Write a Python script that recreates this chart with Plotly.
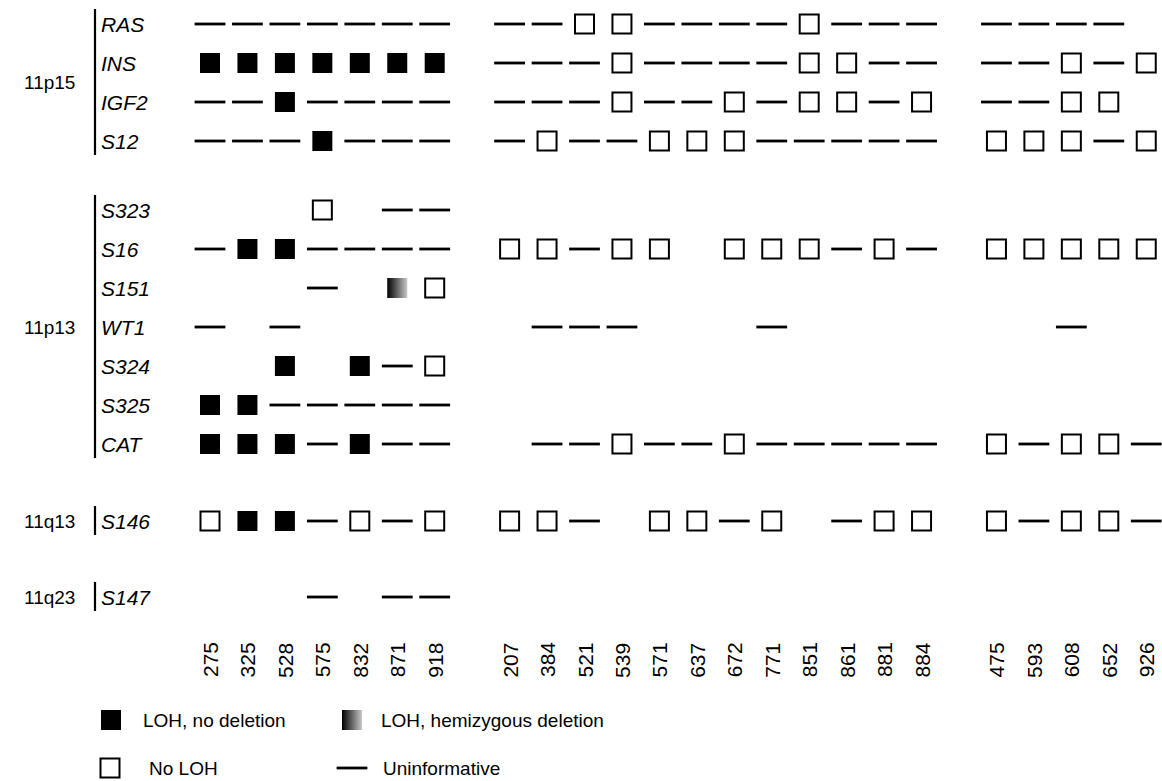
import plotly.graph_objects as go

# ---------------- data ----------------
columns = ["275", "325", "528", "575", "832", "871", "918",
           "207", "384", "521", "539", "571", "637", "672", "771", "851", "861", "881", "884",
           "475", "593", "608", "652", "926"]
group_sizes = [7, 12, 5]

regions = ["11p15", "11p13", "11q13", "11q23"]
region_markers = [["RAS", "INS", "IGF2", "S12"],
                  ["S323", "S16", "S151", "WT1", "S324", "S325", "CAT"],
                  ["S146"],
                  ["S147"]]

# B = LOH no deletion, H = LOH hemizygous deletion, O = no LOH, D = uninformative, . = not tested
status = {
    "RAS":  "D D D D D D D  D D O O D D D D O D D D  D D D D .",
    "INS":  "B B B B B B B  D D D O D D D D O O D D  D D O D O",
    "IGF2": "D D B D D D D  D D D O D D O D O O D O  D D O O .",
    "S12":  "D D D B D D D  D O D D O O O D D D D D  O O O D O",
    "S323": ". . . O . D D  . . . . . . . . . . . .  . . . . .",
    "S16":  "D B B D D D D  O O D O O . O O O D O D  O O O O O",
    "S151": ". . . D . H O  . . . . . . . . . . . .  . . . . .",
    "WT1":  "D . D . . . .  . D D D . . . D . . . .  . . D . .",
    "S324": ". . B . B D O  . . . . . . . . . . . .  . . . . .",
    "S325": "B B D D D D D  . . . . . . . . . . . .  . . . . .",
    "CAT":  "B B B D B D D  . D D O D D O D D D D D  O D O O D",
    "S146": "O B B D O D O  O O D . O O D O . D O O  O D O O D",
    "S147": ". . . D . D D  . . . . . . . . . . . .  . . . . .",
}

legend_labels = {"B": "LOH, no deletion", "H": "LOH, hemizygous deletion",
                 "O": "No LOH", "D": "Uninformative"}

# ---------------- layout constants ----------------
W, H = 1162, 781
X0, XSTEP = 210, 37.45
ROW_STEP = 39.0
block_top = [24, 210, 521, 597]
FONT = "Liberation Sans, Arial, Helvetica, sans-serif"

def col_x(i):
    g, acc = 0, 0
    for gi, n in enumerate(group_sizes):
        if i < acc + n:
            g = gi
            break
        acc += n
    return X0 + (i + g) * XSTEP

row_y = {}
for b, names in enumerate(region_markers):
    for r, name in enumerate(names):
        row_y[name] = block_top[b] + r * ROW_STEP

pts = {k: ([], []) for k in "BHOD"}
for name, codes in status.items():
    for i, c in enumerate(codes.split()):
        if c in pts:
            pts[c][0].append(col_x(i))
            pts[c][1].append(row_y[name])

styles = {
    "B": dict(symbol="square", size=20, color="black", line=dict(width=0)),
    "H": dict(symbol="square", size=20, color="black", line=dict(width=0),
              gradient=dict(type="horizontal", color="#c8c8c8")),
    "O": dict(symbol="square-open", size=19, color="black", line=dict(width=2)),
    "D": dict(symbol="line-ew", size=22, color="black", line=dict(width=2.8, color="black")),
}

fig = go.Figure()
for k in "BHOD":
    fig.add_trace(go.Scatter(x=pts[k][0], y=pts[k][1], mode="markers",
                             marker=styles[k], name=legend_labels[k],
                             showlegend=False, hoverinfo="skip"))

ann = []
shapes = []
# marker labels and region brackets
for b, names in enumerate(region_markers):
    ys = [row_y[n] for n in names]
    for n in names:
        ann.append(dict(x=99, y=row_y[n], text="<i>%s</i>" % n, showarrow=False,
                        xanchor="left", yanchor="middle",
                        font=dict(size=21, color="black", family=FONT)))
    shapes.append(dict(type="line", xref="x", yref="y", x0=95, x1=95,
                       y0=min(ys) - 15, y1=max(ys) + 14,
                       line=dict(color="black", width=2.2)))
    if b == 0:
        ly = (ys[1] + ys[2]) / 2
    elif b == 1:
        ly = ys[3]
    else:
        ly = ys[0]
    ann.append(dict(x=77, y=ly, text=regions[b], showarrow=False,
                    xanchor="right", yanchor="middle",
                    font=dict(size=19, color="black", family=FONT)))

# column labels
for i, c in enumerate(columns):
    ann.append(dict(x=col_x(i), y=660, text=c, textangle=-90, showarrow=False,
                    xanchor="center", yanchor="middle",
                    font=dict(size=21, color="black", family=FONT)))

# legend
leg = [("B", 111, 720, 141), ("H", 352, 720, 379), ("O", 110, 768, 147), ("D", 352, 768, 381)]
for k, mx, my, tx in leg:
    st = dict(styles[k])
    fig.add_trace(go.Scatter(x=[mx], y=[my], mode="markers", marker=st,
                             showlegend=False, hoverinfo="skip"))
    ann.append(dict(x=tx, y=my, text=legend_labels[k], showarrow=False,
                    xanchor="left", yanchor="middle",
                    font=dict(size=19, color="black", family=FONT)))

fig.update_layout(
    width=W, height=H, margin=dict(l=0, r=0, t=0, b=0),
    paper_bgcolor="white", plot_bgcolor="white",
    xaxis=dict(range=[0, W], visible=False, fixedrange=True),
    yaxis=dict(range=[H, 0], visible=False, fixedrange=True),
    annotations=ann, shapes=shapes, showlegend=False,
)
fig.write_html("out.html", config={"displayModeBar": False},
               post_script="document.body.style.margin='0';document.body.style.overflow='hidden';")
